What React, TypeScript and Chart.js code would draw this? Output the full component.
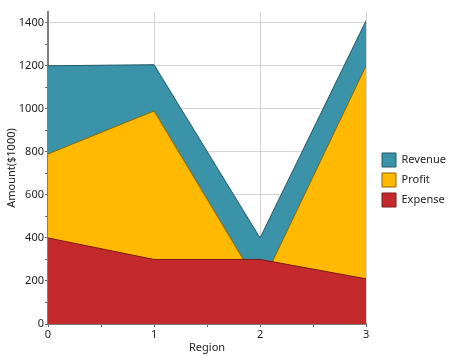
import React, { useEffect, useRef } from "react";
import { Chart, registerables } from "chart.js";

Chart.register(...registerables);

const regions = [0, 1, 2, 3];
const revenue = [1200, 1205, 400, 1410];
const profit = [790, 990, 170, 1200];
const expense = [400, 300, 300, 210];

const xTickValues = [0, 0.5, 1, 1.5, 2, 2.5, 3];
const yTickValues = [0, 100, 200, 300, 400, 500, 600, 700, 800, 900, 1000, 1100, 1200, 1300, 1400];

const FONT = "'Noto Sans', sans-serif";

const legendShift = {
  id: "legendShift",
  afterLayout(chart: any) {
    const l = chart.legend;
    if (l) {
      const w = l.right - l.left;
      l.left = 376;
      l.right = 376 + w;
      l.top -= 4;
      l.bottom -= 4;
    }
  },
};

export default function App() {
  const ref = useRef<HTMLCanvasElement | null>(null);
  useEffect(() => {
    if (!ref.current) return;
    const pts = (arr: number[]) => arr.map((v, i) => ({ x: regions[i], y: v }));
    const chart = new Chart(ref.current, {
      type: "line",
      data: {
        datasets: [
          {
            label: "Expense",
            data: pts(expense),
            backgroundColor: "#C4292B",
            borderColor: "#7A1A1A",
            borderWidth: 1,
            fill: "origin",
            pointRadius: 0,
            tension: 0,
          },
          {
            label: "Profit",
            data: pts(profit),
            backgroundColor: "#FFB900",
            borderColor: "#8A6800",
            borderWidth: 1,
            fill: "origin",
            pointRadius: 0,
            tension: 0,
          },
          {
            label: "Revenue",
            data: pts(revenue),
            backgroundColor: "#3A93A8",
            borderColor: "#1F5866",
            borderWidth: 1,
            fill: "origin",
            pointRadius: 0,
            tension: 0,
          },
        ],
      },
      options: {
        animation: false,
        responsive: true,
        maintainAspectRatio: false,
        layout: { padding: { top: 12, right: 8, bottom: 0, left: 0 } },
        plugins: {
          tooltip: { enabled: false },
          legend: {
            position: "right",
            labels: {
              boxWidth: 14,
              boxHeight: 14,
              padding: 6,
              color: "#222",
              font: { family: FONT, size: 11 },
              sort: (a: any, b: any) => b.datasetIndex - a.datasetIndex,
            },
          },
        },
        scales: {
          x: {
            type: "linear",
            min: 0,
            max: 3,
            afterFit: (s: any) => {
              s.height = 32;
            },
            afterBuildTicks: (s: any) => {
              s.ticks = xTickValues.map((v) => ({ value: v }));
            },
            ticks: {
              padding: 1,
              color: "#222",
              font: { family: FONT, size: 11 },
              callback: (v: any) => (Number.isInteger(v) ? String(v) : ""),
              maxRotation: 0,
              autoSkip: false,
            },
            grid: {
              color: (c: any) =>
                c.tick && Number.isInteger(c.tick.value) && c.tick.value !== 0 ? "#D3D3D3" : "rgba(0,0,0,0)",
              tickColor: "#666",
              tickLength: 3,
            },
            border: { color: "#7F7F7F", width: 2 },
            title: {
              display: true,
              text: "Region",
              color: "#222",
              font: { family: FONT, size: 11 },
              padding: { top: 0, bottom: 2 },
            },
          },
          y: {
            min: 0,
            max: 1450,
            afterFit: (s: any) => {
              s.width = 48;
            },
            afterBuildTicks: (s: any) => {
              s.ticks = yTickValues.map((v) => ({ value: v }));
            },
            ticks: {
              padding: 1,
              color: "#222",
              font: { family: FONT, size: 11 },
              callback: (v: any) => (v % 200 === 0 ? String(v) : ""),
              autoSkip: false,
            },
            grid: {
              color: (c: any) =>
                c.tick && c.tick.value % 200 === 0 && c.tick.value !== 0 ? "#D3D3D3" : "rgba(0,0,0,0)",
              tickColor: "#666",
              tickLength: 3,
            },
            border: { color: "#7F7F7F", width: 2 },
            title: {
              display: true,
              text: "Amount($1000)",
              color: "#222",
              font: { family: FONT, size: 11 },
              padding: { top: 5, bottom: 0 },
            },
          },
        },
      },
      plugins: [legendShift],
    });
    return () => chart.destroy();
  }, []);
  return (
    <div style={{ position: "absolute", left: 0, top: 0, width: 454, height: 356 }}>
      <canvas ref={ref} />
    </div>
  );
}
